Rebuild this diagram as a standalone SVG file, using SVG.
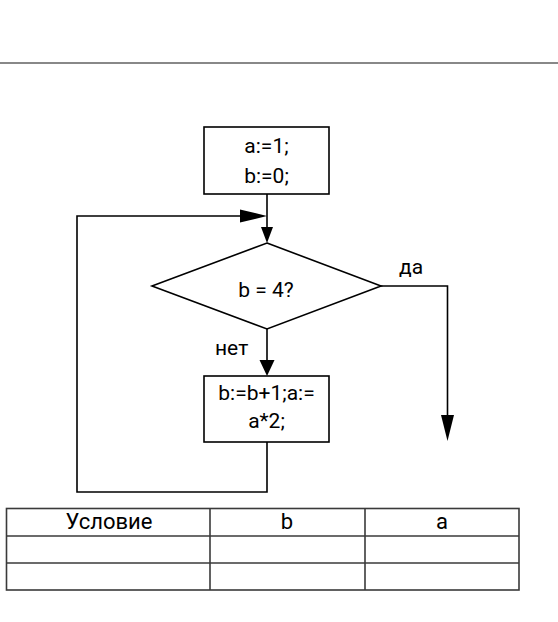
<svg xmlns="http://www.w3.org/2000/svg" width="558" height="622" viewBox="0 0 558 622">
<style>
.box{fill:#fff;stroke:#000;stroke-width:1.6}
.ln{fill:none;stroke:#000;stroke-width:1.6}
.ah{fill:#000;stroke:none}
.t{font-family:Roboto,"Liberation Sans",sans-serif;font-size:21px;fill:#000;text-anchor:middle}
.tl{font-family:Roboto,"Liberation Sans",sans-serif;font-size:21px;fill:#000}
.tb{fill:none;stroke:#3a3a3a;stroke-width:1.6}
.th{font-family:Roboto,"Liberation Sans",sans-serif;font-size:22px;fill:#000;text-anchor:middle}
</style>
<rect width="558" height="622" fill="#fff"/>
<line x1="0" y1="63" x2="558" y2="63" stroke="#888" stroke-width="2"/>
<g id="connectors">
<line class="ln" x1="267" y1="194" x2="267" y2="230"/>
<polygon class="ah" points="261,227 273,227 267,243"/>
<polyline class="ln" points="267,442 267,492 77,492 77,216 245,216"/>
<polygon class="ah" points="240,209.5 267,216 240,222.5"/>
<line class="ln" x1="267" y1="329" x2="267" y2="362"/>
<polygon class="ah" points="259.5,360 274.5,360 267,376"/>
<polyline class="ln" points="381,286 447.5,286 447.5,418"/>
<polygon class="ah" points="441,415 454,415 447.5,441"/>
<text class="tl" x="399" y="274">да</text>
<text class="tl" x="215" y="355">нет</text>
</g>
<g id="start">
<rect class="box" x="204" y="127" width="125" height="67"/>
<text class="t" x="266.5" y="153">a:=1;</text>
<text class="t" x="266.5" y="183">b:=0;</text>
</g>
<g id="cond">
<polygon class="box" points="267,243 381,286 267,329 152,286"/>
<text class="t" x="266" y="297">b = 4?</text>
</g>
<g id="body">
<rect class="box" x="204" y="376" width="125" height="66"/>
<text class="t" x="266.5" y="400">b:=b+1;a:=</text>
<text class="t" x="266.5" y="428">a*2;</text>
</g>
<g id="table">
<rect class="tb" x="6.5" y="508.5" width="512.5" height="81.5"/>
<line class="tb" x1="6.5" y1="536" x2="519" y2="536"/>
<line class="tb" x1="6.5" y1="563" x2="519" y2="563"/>
<line class="tb" x1="210" y1="508.5" x2="210" y2="590"/>
<line class="tb" x1="365" y1="508.5" x2="365" y2="590"/>
<text class="th" x="109" y="529">Условие</text>
<text class="th" x="287" y="529">b</text>
<text class="th" x="442" y="529">a</text>
</g>
</svg>
